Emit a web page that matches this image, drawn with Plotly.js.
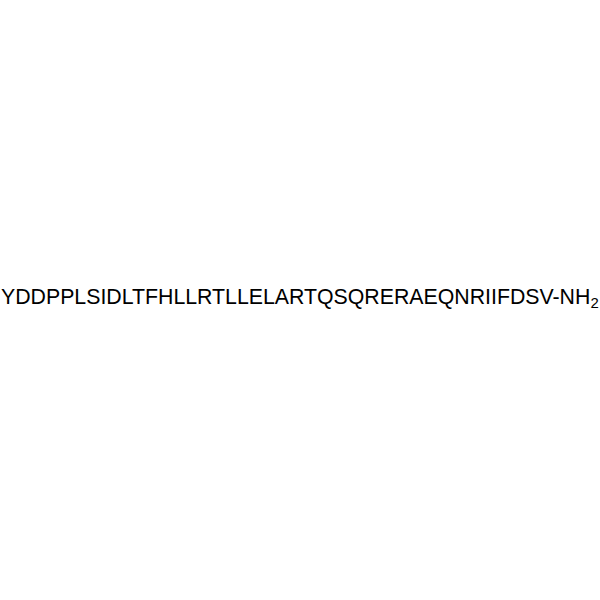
<!DOCTYPE html>
<html>
<head>
<meta charset="utf-8">
<script src="https://cdn.plot.ly/plotly-3.0.1.min.js"></script>
<style>html,body{margin:0;padding:0;background:#fff}#plot{width:600px;height:600px}</style>
</head>
<body>
<div id="plot"></div>
<script>
const sequence = 'YDDPPLSIDLTFHLLRTLLELARTQSQRERAEQNRIIFDSV';
const cTerminus = '-NH<sub>2</sub>';

const layout = {
  width: 600, height: 600,
  margin: { l: 0, r: 0, t: 0, b: 0 },
  paper_bgcolor: '#fff', plot_bgcolor: '#fff',
  xaxis: { visible: false, range: [0, 1] },
  yaxis: { visible: false, range: [0, 1] },
  showlegend: false,
  annotations: [{
    xref: 'paper', yref: 'paper', x: 0.5, y: 0.503,
    xanchor: 'center', yanchor: 'middle',
    text: sequence + cTerminus,
    showarrow: false,
    font: { family: 'Liberation Sans, Arial, sans-serif', size: 21.3, color: '#000' }
  }]
};

Plotly.newPlot('plot', [], layout, { displayModeBar: false, staticPlot: true });
</script>
</body>
</html>
